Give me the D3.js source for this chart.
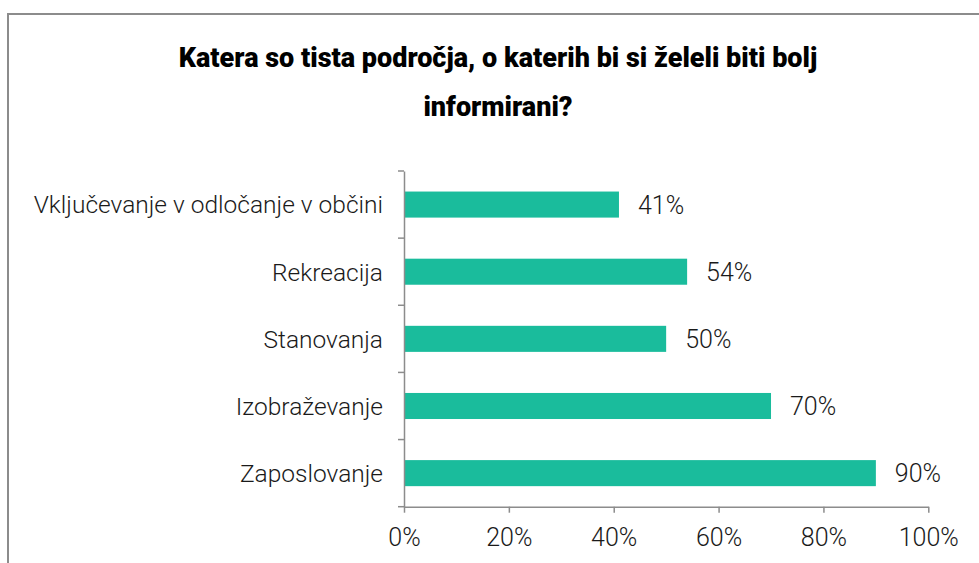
<!DOCTYPE html>
<html>
<head>
<meta charset="utf-8">
<script src="https://cdnjs.cloudflare.com/ajax/libs/d3/7.8.5/d3.min.js"></script>
<style>
    body { margin: 0; background: #fff; }
    svg { display: block; font-family: Roboto, "DejaVu Sans Condensed", sans-serif; }
</style>
</head>
<body>
<svg width="979" height="563"></svg>
<script>
const width = 979, height = 563;

const titleLines = ["Katera so tista področja, o katerih bi si želeli biti bolj", "informirani?"];
const categories = ["Vključevanje v odločanje v občini", "Rekreacija", "Stanovanja", "Izobraževanje", "Zaposlovanje"];
const values = [0.41, 0.54, 0.50, 0.70, 0.90];
const xTicks = [0, 0.2, 0.4, 0.6, 0.8, 1];

const svg = d3.select("svg");

// chart frame (runs past the right and bottom edge)
svg.append("rect")
    .attr("x", 8)
    .attr("y", 14)
    .attr("width", 1000)
    .attr("height", 600)
    .attr("fill", "none")
    .attr("stroke", "#8c8c8c")
    .attr("stroke-width", 2);

// title
svg.selectAll(".title")
    .data(titleLines)
    .enter().append("text")
    .attr("class", "title")
    .attr("x", 498)
    .attr("y", (d, i) => 67 + i * 49)
    .attr("text-anchor", "middle")
    .attr("font-size", "27px")
    .attr("font-weight", 900)
    .attr("fill", "#000")
    .text(d => d);

const x = d3.scaleLinear().domain([0, 1]).range([404, 928.3]);
const y = d3.scaleBand()
    .domain(categories)
    .range([171, 506.7])
    .paddingInner(0.612)
    .paddingOuter(0.306);

// bars
svg.selectAll(".bar")
    .data(values)
    .enter().append("rect")
    .attr("class", "bar")
    .attr("x", x(0))
    .attr("y", (d, i) => y(categories[i]))
    .attr("width", d => x(d) - x(0))
    .attr("height", y.bandwidth())
    .attr("fill", "#1abc9c");

// value labels
svg.selectAll(".value")
    .data(values)
    .enter().append("text")
    .attr("class", "value")
    .attr("x", d => x(d) + 19)
    .attr("y", (d, i) => y(categories[i]) + y.bandwidth() / 2)
    .attr("dy", "0.36em")
    .attr("font-size", "25px")
    .attr("font-weight", 300)
    .attr("fill", "#1a1a1a")
    .text(d => d3.format(".0%")(d));

// y axis with category labels
const yAxis = svg.append("g")
    .attr("transform", `translate(${x(0)},0)`)
    .call(d3.axisLeft(y).tickSize(0).tickPadding(21).tickSizeOuter(0));
yAxis.select(".domain").attr("stroke", "#8c8c8c").attr("stroke-width", 1.5);
yAxis.selectAll("text")
    .attr("font-size", "24.5px")
    .attr("font-weight", 300)
    .attr("dy", "0.36em")
    .attr("fill", "#1a1a1a");

// tick marks between categories
const step = y.step();
const bounds = d3.range(categories.length + 1).map(i => 171 + i * step);
svg.selectAll(".ytick")
    .data(bounds)
    .enter().append("line")
    .attr("class", "ytick")
    .attr("x1", x(0) - 6)
    .attr("x2", x(0))
    .attr("y1", d => d)
    .attr("y2", d => d)
    .attr("stroke", "#8c8c8c")
    .attr("stroke-width", 1.5);

// x axis
const xAxis = svg.append("g")
    .attr("transform", "translate(0,506.7)")
    .call(d3.axisBottom(x).tickValues(xTicks).tickFormat(d3.format(".0%")).tickSize(6).tickSizeOuter(0));
xAxis.selectAll("path, line").attr("stroke", "#8c8c8c").attr("stroke-width", 1.5);
xAxis.selectAll("text")
    .attr("y", 39)
    .attr("dy", 0)
    .attr("font-size", "25px")
    .attr("font-weight", 300)
    .attr("fill", "#1a1a1a");

svg.selectAll("g").attr("font-family", null).attr("font-size", null);
</script>
</body>
</html>
